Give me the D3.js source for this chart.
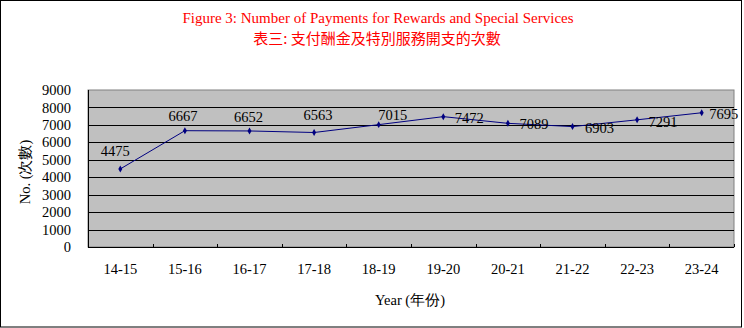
<!DOCTYPE html>
<html>
<head>
<meta charset="utf-8">
<script src="https://cdn.jsdelivr.net/npm/d3@7/dist/d3.min.js"></script>
<style>
  body { margin: 0; background: #fff; }
  svg text { font-family: "Liberation Serif", "Times New Roman", serif; }
</style>
</head>
<body>
<svg id="chart" width="744" height="328"></svg>
<script>
const years = ['14-15', '15-16', '16-17', '17-18', '18-19', '19-20', '20-21', '21-22', '22-23', '23-24'];
const payments = [4475, 6667, 6652, 6563, 7015, 7472, 7089, 6903, 7291, 7695];
const yTicks = [0, 1000, 2000, 3000, 4000, 5000, 6000, 7000, 8000, 9000];

// label nudges, roughly where the original put them
const labelDx = [-5, -2, -1, 4, 14, 26, 26, 27, 26, 22];
const labelDy = [-18, -15, -14, -18, -10, 1, 1, 1, 2, 1];

const svg = d3.select('#chart');
const m = { left: 88, right: 734, top: 90, bottom: 247 };

svg.append('rect')
  .attr('x', 0.5).attr('y', 0.5).attr('width', 741).attr('height', 326.5)
  .attr('fill', '#fff').attr('stroke', '#000');

const x = d3.scaleBand().domain(years).range([m.left, m.right]);
const y = d3.scaleLinear().domain([0, 9000]).range([m.bottom, m.top]);

// plot area
svg.append('rect')
  .attr('x', m.left).attr('y', m.top)
  .attr('width', m.right - m.left).attr('height', m.bottom - m.top)
  .attr('fill', '#c0c0c0').attr('stroke', '#808080');

// gridlines
svg.append('g')
  .selectAll('line')
  .data(yTicks.slice(1, -1))
  .join('line')
  .attr('x1', m.left).attr('x2', m.right)
  .attr('y1', d => Math.round(y(d)) + 0.5).attr('y2', d => Math.round(y(d)) + 0.5)
  .attr('stroke', '#000');

// axes lines
svg.append('line')
  .attr('x1', m.left + 0.5).attr('x2', m.left + 0.5)
  .attr('y1', m.top).attr('y2', m.bottom).attr('stroke', '#000');
svg.append('line')
  .attr('x1', m.left).attr('x2', m.right)
  .attr('y1', m.bottom + 0.5).attr('y2', m.bottom + 0.5).attr('stroke', '#000');

// inner ticks on the category axis
const bounds = years.map(d => x(d)).concat([m.right]);
svg.append('g')
  .selectAll('line')
  .data(bounds.slice(1))
  .join('line')
  .attr('x1', d => Math.round(d) + 0.5).attr('x2', d => Math.round(d) + 0.5)
  .attr('y1', m.bottom - 3).attr('y2', m.bottom)
  .attr('stroke', '#000');

// y labels
svg.append('g')
  .selectAll('text')
  .data(yTicks)
  .join('text')
  .attr('x', 71).attr('y', d => y(d))
  .attr('dy', '0.35em')
  .attr('text-anchor', 'end')
  .attr('font-size', 14.5)
  .text(d => d);

// x labels
svg.append('g')
  .selectAll('text')
  .data(years)
  .join('text')
  .attr('x', d => x(d) + x.bandwidth() / 2).attr('y', 269)
  .attr('dy', '0.35em')
  .attr('text-anchor', 'middle')
  .attr('font-size', 14.5)
  .text(d => d);

// line + markers
const cx = (d, i) => x(years[i]) + x.bandwidth() / 2;
svg.append('path')
  .datum(payments)
  .attr('fill', 'none')
  .attr('stroke', '#000080')
  .attr('stroke-width', 1)
  .attr('d', d3.line().x(cx).y(d => y(d)));

svg.append('g')
  .selectAll('path')
  .data(payments)
  .join('path')
  .attr('transform', (d, i) => `translate(${cx(d, i)},${y(d)})`)
  .attr('d', d3.symbol(d3.symbolDiamond, 14))
  .attr('fill', '#000080');

svg.append('g')
  .selectAll('text')
  .data(payments)
  .join('text')
  .attr('x', (d, i) => cx(d, i) + labelDx[i])
  .attr('y', (d, i) => y(d) + labelDy[i])
  .attr('dy', '0.35em')
  .attr('text-anchor', 'middle')
  .attr('font-size', 14.5)
  .attr('fill', '#000')
  .text(d => d);

// titles
svg.append('text')
  .attr('x', 378).attr('y', 23)
  .attr('text-anchor', 'middle')
  .attr('font-size', 15)
  .attr('fill', '#f00')
  .text('Figure  3: Number  of Payments  for Rewards and Special  Services');
svg.append('text')
  .attr('x', 377).attr('y', 44)
  .attr('text-anchor', 'middle')
  .attr('font-size', 15)
  .attr('fill', '#f00')
  .style('font-family', '"Noto Sans CJK TC", sans-serif')
  .text('表三: 支付酬金及特別服務開支的次數');

svg.append('text')
  .attr('x', 410).attr('y', 300)
  .attr('dy', '0.35em')
  .attr('text-anchor', 'middle')
  .attr('font-size', 14.5)
  .text('Year (年份)');

svg.append('text')
  .attr('transform', 'translate(25,172) rotate(-90)')
  .attr('dy', '0.35em')
  .attr('text-anchor', 'middle')
  .attr('font-size', 14.5)
  .text('No. (次數)');
</script>
</body>
</html>
